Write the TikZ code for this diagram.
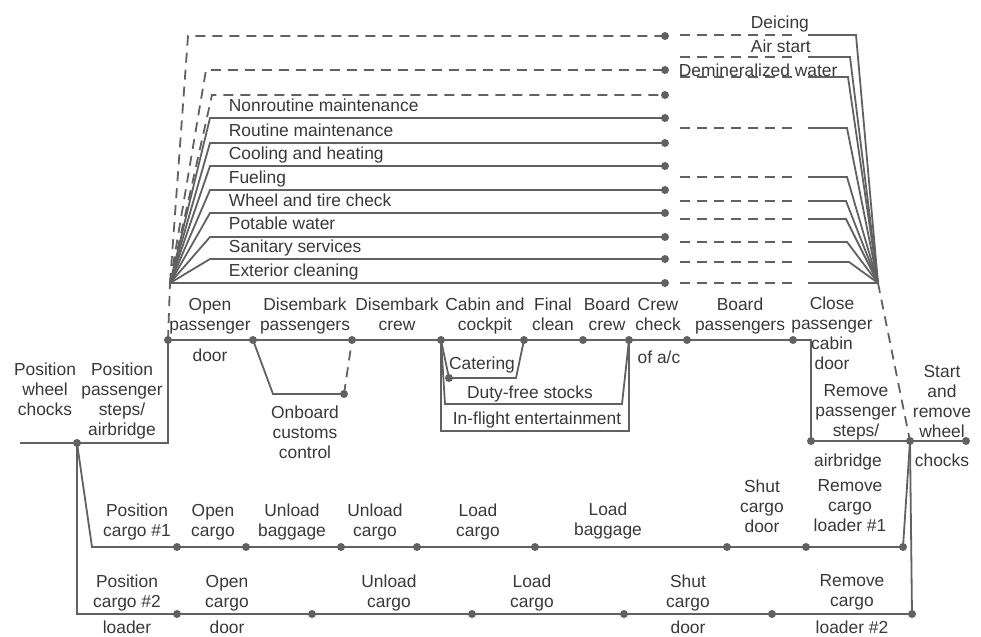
\documentclass[tikz,border=0pt]{standalone}
\usepackage{fontspec}
\setmainfont{Liberation Sans}
\begin{document}
\begin{tikzpicture}[x=0.5pt,y=-0.5pt,line width=0.9pt,color=black!62,
  lbl/.style={text=black!78,font=\fontsize{8.7}{10}\selectfont,align=center,inner sep=0pt,anchor=north},
  lft/.style={lbl,anchor=base west},
  dashln/.style={dash pattern=on 5pt off 3.5pt}]
\useasboundingbox (0,0) rectangle (981,637);

\coordinate (L) at (170,283);
\coordinate (R) at (878,283);

\foreach \y [count=\i] in {36,70,95,118,143,166,190,213,237,259,283}
  \coordinate (s\i) at (665,\y);
\coordinate (a1) at (188,36);
\coordinate (a2) at (206,70);
\coordinate (a3) at (212,95);
\foreach \i in {4,...,10}
  \path (s\i) ++(-455,0) coordinate (a\i);

\foreach \i in {1,2,3}
  \draw[dashln] (L)--(a\i)--(s\i);
\foreach \i in {4,...,10}
  \draw (L)--(a\i)--(s\i);
\draw (L)--(s11);

\foreach \y/\cx [count=\i] in {35/856,57/850,77/848,128/847,177/847,201/846,219/846,242/847,262/849,283/878}{
  \coordinate (rd\i) at (680,\y);
  \coordinate (re\i) at (797,\y);
  \coordinate (rs\i) at (808,\y);
  \coordinate (rc\i) at (\cx,\y);
  \draw[dashln] (rd\i)--(re\i);
  \draw (rs\i)--(rc\i)--(R);
}

\foreach \x [count=\i from 0] in {168,253,352,441,524,583,629,687,793}
  \coordinate (p\i) at (\x,340);
\coordinate (pc) at (811,340);
\coordinate (q1) at (811,441);
\coordinate (q2) at (910,441);
\coordinate (q3) at (966,441);
\draw (p0)--(p8)--(pc)--(q1)--(q3);
\draw[dashln] (p0)--(L);
\draw[dashln] (R)--(q2);

\coordinate (cu1) at (273,394);
\coordinate (cu2) at (344,394);
\draw (p1)--(cu1)--(cu2);
\draw[dashln] (cu2)--(p2);

\coordinate (ct1) at (449,378);
\coordinate (ct2) at (516,378);
\coordinate (df1) at (445,404);
\coordinate (df2) at (622,404);
\coordinate (if1) at (441,431);
\coordinate (if2) at (629,431);
\draw (p3)--(ct1)--(ct2)--(p4);
\draw (p3)--(df1)--(df2)--(p6);
\draw (p3)--(if1)--(if2)--(p6);

\coordinate (w0) at (20,443);
\coordinate (w1) at (77,443);
\coordinate (w2) at (168,443);
\draw (w0)--(w2)--(p0);

\foreach \x [count=\i] in {177,246,341,417,535,727,806,903}
  \coordinate (g\i) at (\x,547);
\foreach \x [count=\i] in {177,312,472,624,772,912}
  \coordinate (h\i) at (\x,614);
\coordinate (k1) at (92,547);
\coordinate (k2) at (77,614);
\draw (w1)--(k1)--(g8)--(q2);
\draw (w1)--(k2)--(h6)--(q2);

\foreach \i in {1,...,11}
  \fill (s\i) circle (2pt);
\foreach \i in {0,...,8}
  \fill (p\i) circle (2pt);
\foreach \i in {1,...,8}
  \fill (g\i) circle (2pt);
\foreach \i in {1,...,6}
  \fill (h\i) circle (2pt);
\foreach \point in {q1,q2,q3,cu2,ct1,w1}
  \fill (\point) circle (2pt);

\node[lft] (nonroutine) at (228,112) {Nonroutine maintenance};
\node[lft] (routine) at (228,136) {Routine maintenance};
\node[lft] (cooling) at (228,159) {Cooling and heating};
\node[lft] (fueling) at (228,183) {Fueling};
\node[lft] (wheel) at (228,206) {Wheel and tire check};
\node[lft] (potable) at (228,229) {Potable water};
\node[lft] (sanitary) at (228,252) {Sanitary services};
\node[lft] (exterior) at (228,276) {Exterior cleaning};
\node[lft] (deicing) at (750,28) {Deicing};
\node[lft] (airstart) at (750,53) {Air start};
\node[lft] (demin) at (678,76) {Demineralized water};

\node[lbl] (chocks) at (45,362) {Position\\wheel\\chocks};
\node[lbl] (steps) at (122,362) {Position\\passenger\\steps/\\airbridge};
\node[lbl] (opendoor) at (210,297) {Open\\passenger};
\node[lbl] (opendoorb) at (210,348) {door};
\node[lbl] (dispax) at (305,297) {Disembark\\passengers};
\node[lbl] (discrew) at (397,297) {Disembark\\crew};
\node[lbl] (cabin) at (485,297) {Cabin and\\cockpit};
\node[lbl] (final) at (553,297) {Final\\clean};
\node[lbl] (boardcrew) at (607,297) {Board\\crew};
\node[lbl] (check) at (658,297) {Crew\\check};
\node[lbl] (checkb) at (659,350) {of a/c};
\node[lbl] (boardpax) at (740,297) {Board\\passengers};
\node[lbl] (close) at (832,296) {Close\\passenger\\cabin\\door};
\node[lbl] (remsteps) at (856,384) {Remove\\passenger\\steps/};
\node[lbl] (remstepsb) at (848,453) {airbridge};
\node[lbl] (start) at (942,364) {Start\\and\\remove\\wheel};
\node[lbl] (startb) at (942,453) {chocks};
\node[lbl] (customs) at (305,405) {Onboard\\customs\\control};
\node[lbl,anchor=base] (catering) at (482,369) {Catering};
\node[lbl,anchor=base] (dutyfree) at (530,398) {Duty-free stocks};
\node[lbl,anchor=base] (inflight) at (537,424) {In-flight entertainment};

\node[lbl] (poscargoa) at (137,503) {Position\\cargo \#1};
\node[lbl] (opencargoa) at (213,503) {Open\\cargo};
\node[lbl] (unbag) at (292,503) {Unload\\baggage};
\node[lbl] (uncargoa) at (375,503) {Unload\\cargo};
\node[lbl] (ldcargoa) at (478,503) {Load\\cargo};
\node[lbl] (ldbag) at (608,502) {Load\\baggage};
\node[lbl] (shuta) at (762,479) {Shut\\cargo\\door};
\node[lbl] (remloadera) at (850,479) {Remove\\cargo\\loader \#1};

\node[lbl] (poscargob) at (127,574) {Position\\cargo \#2};
\node[lbl] (poscargobb) at (127,620) {loader};
\node[lbl] (opencargob) at (227,574) {Open\\cargo};
\node[lbl] (opencargobb) at (227,620) {door};
\node[lbl] (uncargob) at (389,574) {Unload\\cargo};
\node[lbl] (ldcargob) at (532,574) {Load\\cargo};
\node[lbl] (shutb) at (688,574) {Shut\\cargo};
\node[lbl] (shutbb) at (688,620) {door};
\node[lbl] (remloaderb) at (852,574) {Remove\\cargo};
\node[lbl] (remloaderbb) at (852,620) {loader \#2};
\end{tikzpicture}
\end{document}
